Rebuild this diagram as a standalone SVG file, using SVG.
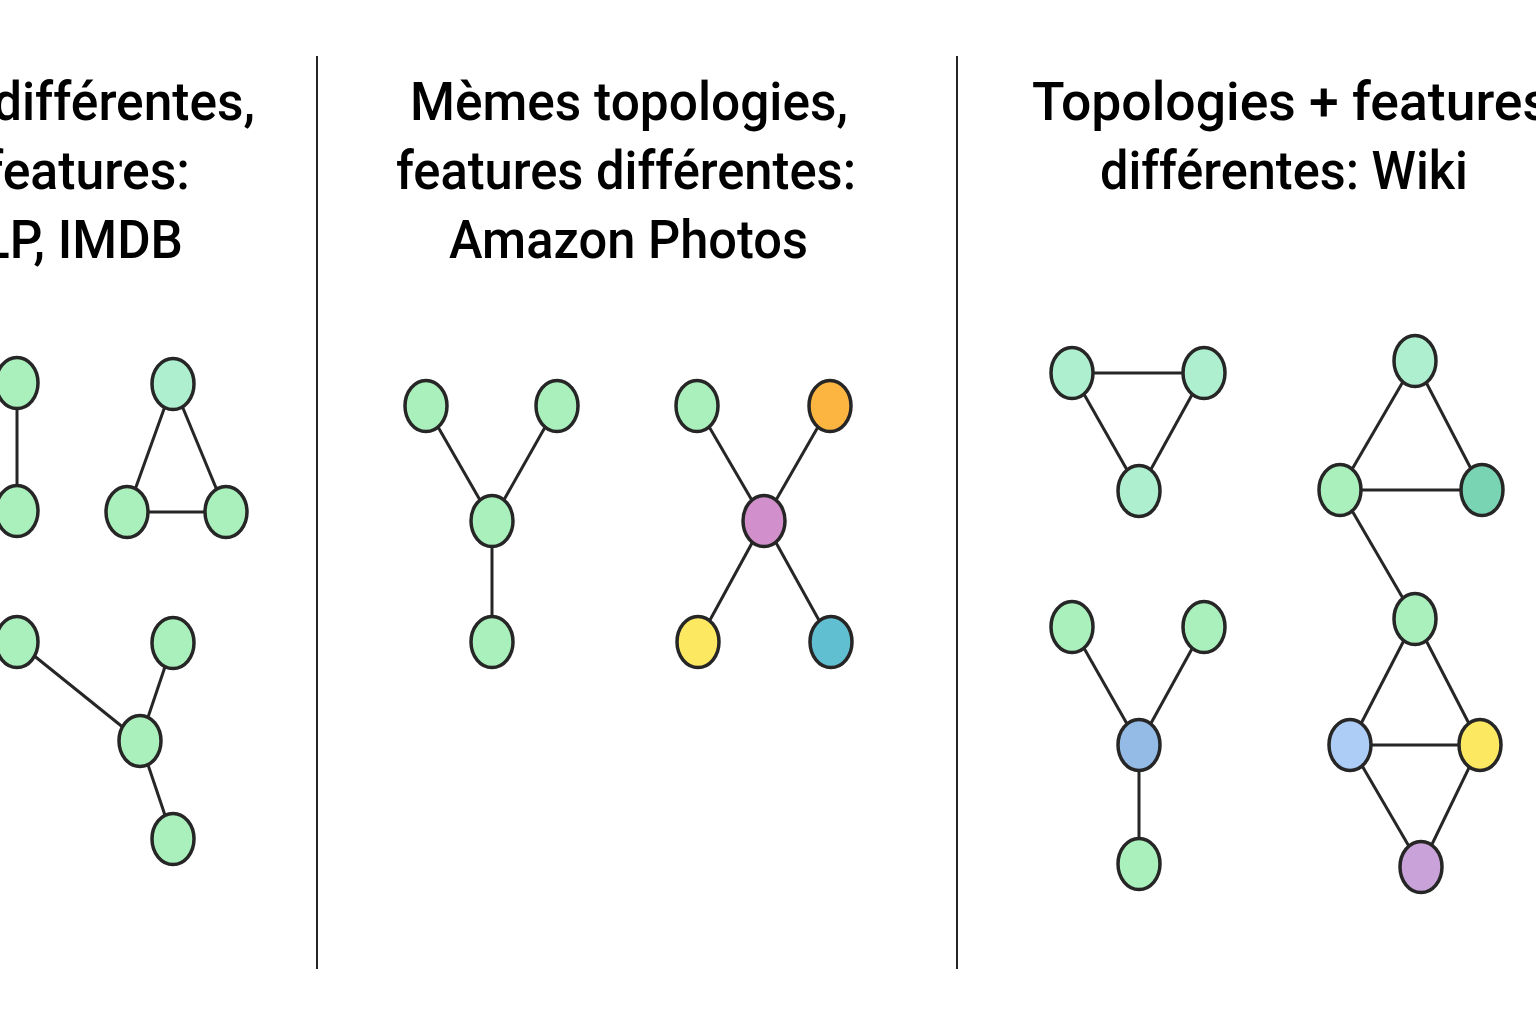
<svg xmlns="http://www.w3.org/2000/svg" width="1536" height="1024" viewBox="0 0 1536 1024">
<style>
.t{font-family:Roboto,"Liberation Sans",Arial,sans-serif;font-weight:500;font-size:54px;fill:#000;}
.n{stroke:#262626;stroke-width:3.5;}
.e{stroke:#262626;stroke-width:3;fill:none;}
.div{stroke:#262626;stroke-width:2;}
.g{fill:#aaf0bc;}
.m{fill:#aeefd0;}
.dm{fill:#78d4b2;}
.o{fill:#fdb541;}
.p{fill:#d18fcc;}
.y{fill:#fde862;}
.c{fill:#60c0d2;}
.b{fill:#adcdf6;}
.db{fill:#93bbe6;}
.v{fill:#c8a2d8;}
</style>
<rect width="1536" height="1024" fill="#fff"/>
<g id="dividers">
<line class="div" x1="317" y1="56" x2="317" y2="969"/>
<line class="div" x1="957" y1="56" x2="957" y2="969"/>
</g>
<g id="titles">
<text class="t" x="255" y="120" text-anchor="end" textLength="262" lengthAdjust="spacingAndGlyphs">différentes,</text>
<text class="t" x="190" y="189" text-anchor="end" textLength="205" lengthAdjust="spacingAndGlyphs">features:</text>
<text class="t" x="183" y="258" text-anchor="end" textLength="201" lengthAdjust="spacingAndGlyphs">LP, IMDB</text>
<text class="t" x="410" y="120" textLength="438" lengthAdjust="spacingAndGlyphs">Mèmes topologies,</text>
<text class="t" x="396" y="189" textLength="460" lengthAdjust="spacingAndGlyphs">features différentes:</text>
<text class="t" x="449" y="258" textLength="359" lengthAdjust="spacingAndGlyphs">Amazon Photos</text>
<text class="t" x="1032" y="120" textLength="518" lengthAdjust="spacingAndGlyphs">Topologies + features</text>
<text class="t" x="1100" y="189" textLength="368" lengthAdjust="spacingAndGlyphs">différentes: Wiki</text>
</g>
<g id="connectors">
<line class="e" x1="17" y1="383" x2="17" y2="511"/>
<line class="e" x1="173" y1="384" x2="127" y2="512"/>
<line class="e" x1="173" y1="384" x2="226" y2="512"/>
<line class="e" x1="127" y1="512" x2="226" y2="512"/>
<line class="e" x1="17" y1="642" x2="140" y2="741"/>
<line class="e" x1="173" y1="643" x2="140" y2="741"/>
<line class="e" x1="140" y1="741" x2="173" y2="839"/>
<line class="e" x1="426" y1="406" x2="492" y2="521"/>
<line class="e" x1="557" y1="406" x2="492" y2="521"/>
<line class="e" x1="492" y1="521" x2="492" y2="642"/>
<line class="e" x1="697" y1="406" x2="764" y2="521"/>
<line class="e" x1="830" y1="406" x2="764" y2="521"/>
<line class="e" x1="764" y1="521" x2="698" y2="642"/>
<line class="e" x1="764" y1="521" x2="831" y2="642"/>
<line class="e" x1="1072" y1="373" x2="1204" y2="373"/>
<line class="e" x1="1072" y1="373" x2="1139" y2="491"/>
<line class="e" x1="1204" y1="373" x2="1139" y2="491"/>
<line class="e" x1="1415" y1="361" x2="1340" y2="490"/>
<line class="e" x1="1415" y1="361" x2="1482" y2="490"/>
<line class="e" x1="1340" y1="490" x2="1482" y2="490"/>
<line class="e" x1="1340" y1="490" x2="1415" y2="619"/>
<line class="e" x1="1415" y1="619" x2="1350" y2="745"/>
<line class="e" x1="1415" y1="619" x2="1480" y2="745"/>
<line class="e" x1="1350" y1="745" x2="1480" y2="745"/>
<line class="e" x1="1350" y1="745" x2="1421" y2="867"/>
<line class="e" x1="1480" y1="745" x2="1421" y2="867"/>
<line class="e" x1="1072" y1="627" x2="1139" y2="745"/>
<line class="e" x1="1204" y1="627" x2="1139" y2="745"/>
<line class="e" x1="1139" y1="745" x2="1139" y2="864"/>
</g>
<g id="n1"><ellipse class="n g" cx="17" cy="383" rx="21" ry="25.5"/></g>
<g id="n2"><ellipse class="n g" cx="17" cy="511" rx="21" ry="25.5"/></g>
<g id="n3"><ellipse class="n m" cx="173" cy="384" rx="21" ry="25.5"/></g>
<g id="n4"><ellipse class="n g" cx="127" cy="512" rx="21" ry="25.5"/></g>
<g id="n5"><ellipse class="n g" cx="226" cy="512" rx="21" ry="25.5"/></g>
<g id="n6"><ellipse class="n g" cx="17" cy="642" rx="21" ry="25.5"/></g>
<g id="n7"><ellipse class="n g" cx="173" cy="643" rx="21" ry="25.5"/></g>
<g id="n8"><ellipse class="n g" cx="140" cy="741" rx="21" ry="25.5"/></g>
<g id="n9"><ellipse class="n g" cx="173" cy="839" rx="21" ry="25.5"/></g>
<g id="n10"><ellipse class="n g" cx="426" cy="406" rx="21" ry="25.5"/></g>
<g id="n11"><ellipse class="n g" cx="557" cy="406" rx="21" ry="25.5"/></g>
<g id="n12"><ellipse class="n g" cx="492" cy="521" rx="21" ry="25.5"/></g>
<g id="n13"><ellipse class="n g" cx="492" cy="642" rx="21" ry="25.5"/></g>
<g id="n14"><ellipse class="n g" cx="697" cy="406" rx="21" ry="25.5"/></g>
<g id="n15"><ellipse class="n o" cx="830" cy="406" rx="21" ry="25.5"/></g>
<g id="n16"><ellipse class="n p" cx="764" cy="521" rx="21" ry="25.5"/></g>
<g id="n17"><ellipse class="n y" cx="698" cy="642" rx="21" ry="25.5"/></g>
<g id="n18"><ellipse class="n c" cx="831" cy="642" rx="21" ry="25.5"/></g>
<g id="n19"><ellipse class="n m" cx="1072" cy="373" rx="21" ry="25.5"/></g>
<g id="n20"><ellipse class="n m" cx="1204" cy="373" rx="21" ry="25.5"/></g>
<g id="n21"><ellipse class="n m" cx="1139" cy="491" rx="21" ry="25.5"/></g>
<g id="n22"><ellipse class="n m" cx="1415" cy="361" rx="21" ry="25.5"/></g>
<g id="n23"><ellipse class="n g" cx="1340" cy="490" rx="21" ry="25.5"/></g>
<g id="n24"><ellipse class="n dm" cx="1482" cy="490" rx="21" ry="25.5"/></g>
<g id="n25"><ellipse class="n g" cx="1415" cy="619" rx="21" ry="25.5"/></g>
<g id="n26"><ellipse class="n b" cx="1350" cy="745" rx="21" ry="25.5"/></g>
<g id="n27"><ellipse class="n y" cx="1480" cy="745" rx="21" ry="25.5"/></g>
<g id="n28"><ellipse class="n v" cx="1421" cy="867" rx="21" ry="25.5"/></g>
<g id="n29"><ellipse class="n g" cx="1072" cy="627" rx="21" ry="25.5"/></g>
<g id="n30"><ellipse class="n g" cx="1204" cy="627" rx="21" ry="25.5"/></g>
<g id="n31"><ellipse class="n db" cx="1139" cy="745" rx="21" ry="25.5"/></g>
<g id="n32"><ellipse class="n g" cx="1139" cy="864" rx="21" ry="25.5"/></g>
</svg>
